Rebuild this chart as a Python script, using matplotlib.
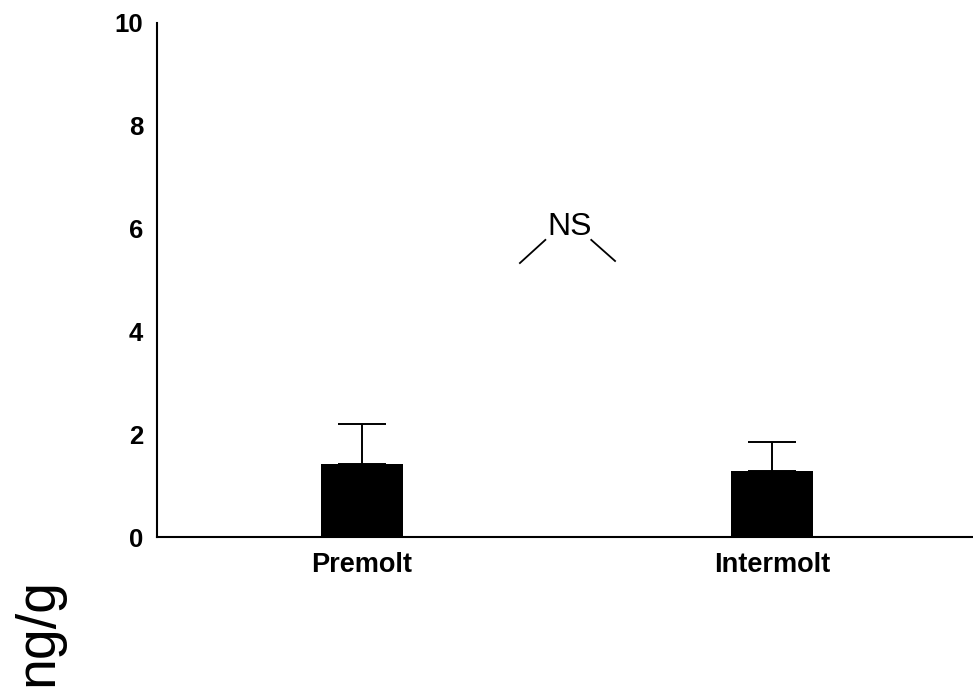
import matplotlib
matplotlib.use("Agg")
import matplotlib.pyplot as plt

categories = ["Premolt", "Intermolt"]
means = [1.42, 1.28]
errors = [0.78, 0.57]
yticks = [0, 2, 4, 6, 8, 10]
ns_label = "NS"

plt.rcParams['font.family'] = ['Liberation Sans', 'DejaVu Sans']

fig = plt.figure(figsize=(9.73, 6.9), dpi=100)
ax = fig.add_axes([0.1614, 0.2217, 0.8386, 0.745])

x = list(range(len(categories)))
ax.bar(x, means, width=0.2, color='black', zorder=2)
ax.errorbar(x, means, yerr=[[0]*len(errors), errors], fmt='none', ecolor='black',
            elinewidth=1.4, capsize=17.6, capthick=1.4, zorder=1)

ax.set_xlim(-0.5, 1.49)
ax.set_ylim(0, 10)
ax.set_yticks(yticks)
ax.set_yticklabels([str(t) for t in yticks], fontsize=18.5, fontweight='bold')
ax.set_xticks(x)
ax.set_xticklabels(categories, fontsize=19.5, fontweight='bold')
ax.tick_params(axis='both', length=0, pad=10)
ax.tick_params(axis='x', pad=11)
for s in ['top', 'right']:
    ax.spines[s].set_visible(False)
for s in ['left', 'bottom']:
    ax.spines[s].set_linewidth(1.5)

# NS annotation
ax.text(0.507, 6.03, ns_label, ha='center', va='center', fontsize=23)
ax.plot([0.385, 0.447], [5.33, 5.78], color='black', lw=1.3)
ax.plot([0.559, 0.617], [5.78, 5.37], color='black', lw=1.3)

fig.text(38/973, 1 - 632/690, "ng/g", rotation=90, ha='center', va='center', fontsize=40)

fig.savefig("out.png", dpi=100)
